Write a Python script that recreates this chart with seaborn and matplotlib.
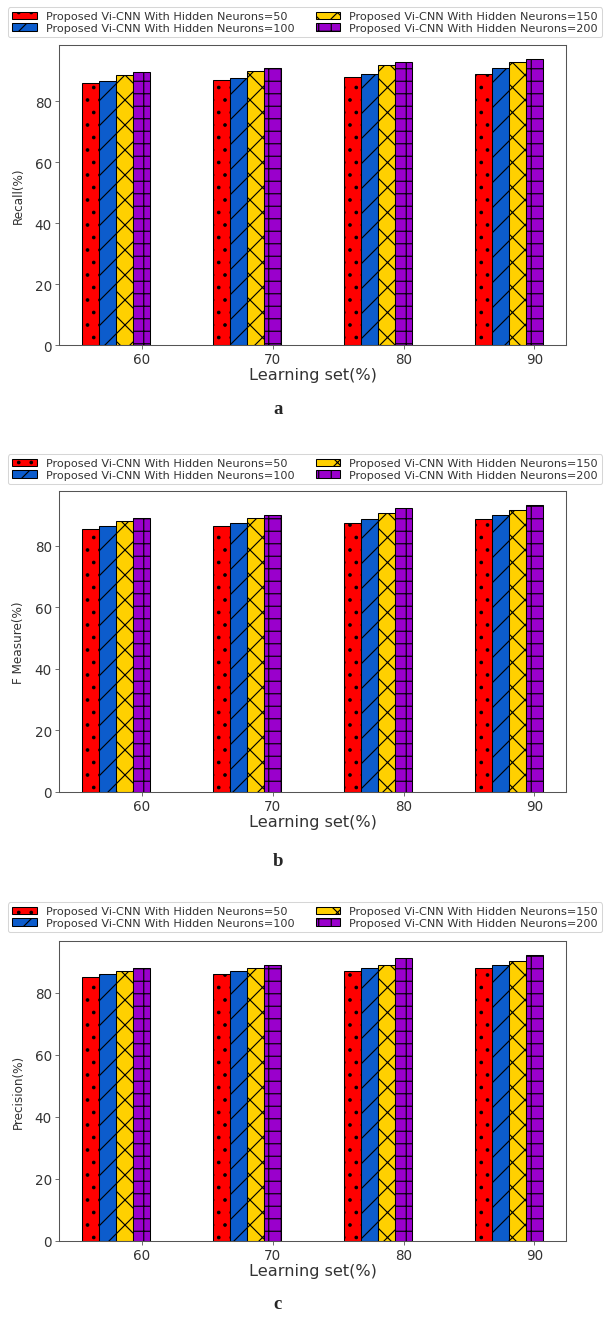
import pandas as pd
import numpy as np
import matplotlib.pyplot as plt
import seaborn as sns
from matplotlib.patches import Patch

### data
learning_set = [60, 70, 80, 90]
neurons = [50, 100, 150, 200]

recall_50 = [85.8, 86.8, 87.9, 88.8]
recall_100 = [86.7, 87.7, 88.9, 90.8]
recall_150 = [88.7, 89.7, 91.9, 92.8]
recall_200 = [89.6, 90.7, 92.8, 93.7]

fmeasure_50 = [85.5, 86.6, 87.6, 88.6]
fmeasure_100 = [86.6, 87.6, 88.7, 90.1]
fmeasure_150 = [88.0, 89.0, 90.8, 91.7]
fmeasure_200 = [89.1, 90.1, 92.3, 93.2]

precision_50 = [85, 86, 87, 88]
precision_100 = [86, 87, 88, 89]
precision_150 = [87, 88, 89, 90]
precision_200 = [88, 89, 91, 92]

labels = [f"Proposed Vi-CNN With Hidden Neurons={n}" for n in neurons]
colors = ["#ff0000", "#0c5ccc", "#ffd000", "#9a00cc"]
hatches = [".", "/", "x", "+"]

panels = [
    ("Recall(%)", [recall_50, recall_100, recall_150, recall_200], "a"),
    ("F Measure(%)", [fmeasure_50, fmeasure_100, fmeasure_150, fmeasure_200], "b"),
    ("Precision(%)", [precision_50, precision_100, precision_150, precision_200], "c"),
]

sns.set_style("ticks")
plt.rcParams["font.family"] = ["DejaVu Sans"]
plt.rcParams["hatch.linewidth"] = 1.1
plt.rcParams["axes.edgecolor"] = "#555555"
plt.rcParams["xtick.color"] = "#555555"
plt.rcParams["ytick.color"] = "#555555"
plt.rcParams["xtick.labelcolor"] = "#333333"
plt.rcParams["ytick.labelcolor"] = "#333333"
plt.rcParams["xtick.major.size"] = 3.5
plt.rcParams["ytick.major.size"] = 3.5

W, H = 604, 1327
DPI = 75
fig = plt.figure(figsize=(W / DPI, H / DPI), dpi=DPI)

# axes boxes in pixels: (top, bottom)
ax_boxes = [(46, 346), (492, 793), (942, 1242)]
legend_bottoms = [38, 485, 933]
letter_y = [410, 862, 1305]
bar_w = 1.3

for (ylabel, series, letter), (top, bottom), lb, ly in zip(panels, ax_boxes, legend_bottoms, letter_y):
    ax = fig.add_axes([59 / W, 1 - bottom / H, (566 - 59) / W, (bottom - top) / H])

    rows = []
    for lab, vals in zip(labels, series):
        for s, v in zip(learning_set, vals):
            rows.append({"pos": s - 1.5 * bar_w, "value": v, "model": lab})
    df = pd.DataFrame(rows)

    sns.barplot(data=df, x="pos", y="value", hue="model", hue_order=labels,
                palette=dict(zip(labels, colors)), native_scale=True,
                width=4 * bar_w / 10, errorbar=None, edgecolor="black",
                linewidth=1.0, saturation=1, legend=False, ax=ax)

    for cont, h in zip(ax.containers, hatches):
        for p in cont:
            p.set_hatch(h)

    ax.set_xticks(learning_set)
    ax.set_xticklabels([str(s) for s in learning_set])
    ax.set_yticks([0, 20, 40, 60, 80])
    ax.tick_params(labelsize=13)
    ax.set_xlabel("Learning set(%)", fontsize=15.5, color="#333333", labelpad=1)
    ax.set_ylabel(ylabel, fontsize=11.5, color="#333333", labelpad=9)
    for sp in ax.spines.values():
        sp.set_linewidth(1.0)

    handles = [Patch(facecolor=c, edgecolor="black", hatch=h, label=l)
               for c, h, l in zip(colors, hatches, labels)]
    leg = fig.legend(handles=handles, loc="lower left", ncol=2, mode="expand",
                     bbox_to_anchor=(8 / W, 1 - lb / H, 594 / W, 0.02),
                     bbox_transform=fig.transFigure, borderaxespad=0,
                     fontsize=10.8, handlelength=2.2, handletextpad=0.8,
                     columnspacing=1.0, labelspacing=0.15, borderpad=0.35,
                     frameon=True)
    for t in leg.get_texts():
        t.set_color("#333333")

    fig.text(278 / W, 1 - ly / H, letter, ha="center", va="center",
             fontsize=18, fontweight="bold", family="Liberation Serif")

fig.savefig("out.png", dpi=DPI)
